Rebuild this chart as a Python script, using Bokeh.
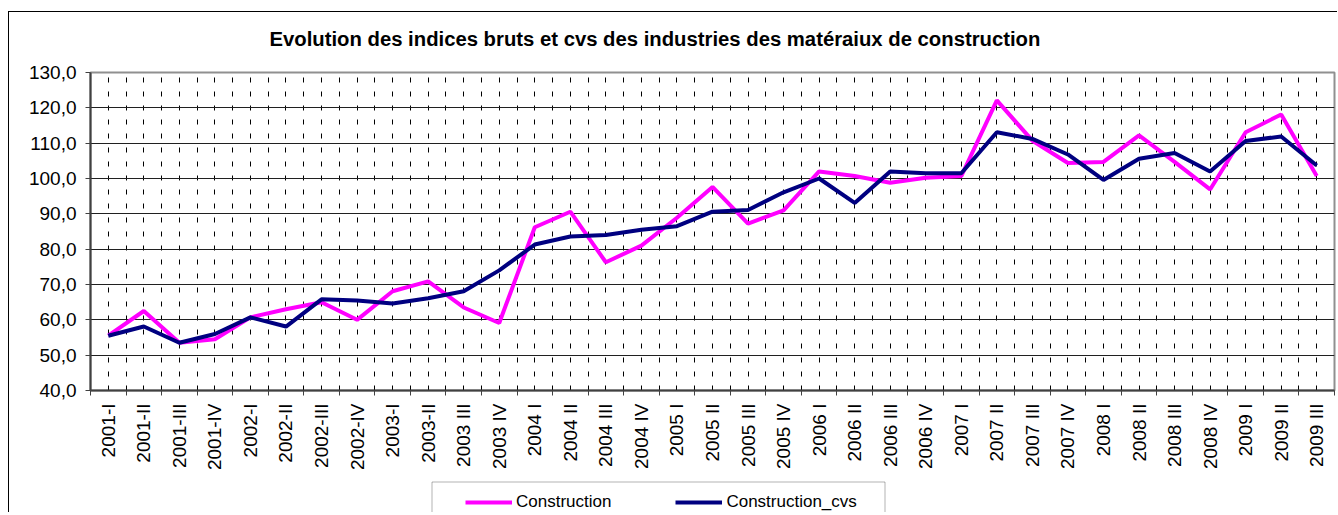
import math
from bokeh.plotting import figure
from bokeh.layouts import column
from bokeh.models import (Range1d, FixedTicker, Legend, LegendItem, ColumnDataSource,
                          Title, BoxAnnotation)
from bokeh.embed import file_html
from bokeh.resources import INLINE

# ---------------- data ----------------
quarters = ["2001-I", "2001-II", "2001-III", "2001-IV",
            "2002-I", "2002-II", "2002-III", "2002-IV",
            "2003-I", "2003-II", "2003 III", "2003 IV",
            "2004 I", "2004 II", "2004 III", "2004 IV",
            "2005 I", "2005 II", "2005 III", "2005 IV",
            "2006 I", "2006 II", "2006 III", "2006 IV",
            "2007 I", "2007 II", "2007 III", "2007 IV",
            "2008 I", "2008 II", "2008 III", "2008 IV",
            "2009 I", "2009 II", "2009 III"]
construction = [55.5, 62.5, 53.5, 54.5, 60.7, 63.0, 65.0, 60.0, 68.1, 70.9,
                63.5, 59.1, 86.2, 90.6, 76.3, 81.0, 88.9, 97.6, 87.2, 91.0,
                102.0, 100.7, 98.8, 100.2, 100.7, 122.1, 110.7, 104.4, 104.7, 112.2,
                104.7, 96.9, 113.1, 118.1, 100.7]
construction_cvs = [55.5, 58.1, 53.5, 56.0, 60.7, 58.1, 65.8, 65.5, 64.6, 66.1,
                    68.1, 74.0, 81.3, 83.6, 84.0, 85.5, 86.5, 90.6, 91.1, 96.1,
                    100.0, 93.1, 102.0, 101.5, 101.5, 113.1, 111.2, 106.8, 99.6, 105.6,
                    107.2, 102.0, 110.6, 111.9, 103.7]
y_ticks = [40, 50, 60, 70, 80, 90, 100, 110, 120, 130]
y_tick_labels = ["40,0", "50,0", "60,0", "70,0", "80,0", "90,0",
                 "100,0", "110,0", "120,0", "130,0"]
title_text = "Evolution des indices bruts et cvs des industries des matéraiux de construction"
series_names = ["Construction", "Construction_cvs"]
series_colors = ["#FF00FF", "#000080"]

# ---------------- main figure ----------------
W = 1328
HF = 468
BL, BR = 81, 3          # left / right borders of the plotting frame
n = len(quarters)
pos = list(range(n))
src = ColumnDataSource(dict(x=pos, q=quarters, c=construction, cvs=construction_cvs))

FONT = "Liberation Sans"
AX = "#404040"
LW = 4

fig = figure(width=W, height=HF, output_backend="svg", toolbar_location=None,
             title=None,
             x_range=Range1d(-0.5, n - 0.5), y_range=Range1d(40, 130),
             min_border_left=BL, min_border_right=BR, min_border_top=60,
             min_border_bottom=90, background_fill_color="white",
             border_fill_color="white")
fig.outline_line_color = "#909090"
fig.outline_line_width = 2

# spacer (closest to frame) then the real title
fig.add_layout(Title(text=" ", text_font_size="1px", standoff=15), "above")
fig.add_layout(Title(text=title_text, align="left", offset=179, standoff=10,
                     text_font=FONT, text_font_style="bold",
                     text_font_size="20.3px", text_color="black"), "above")

xt = FixedTicker(ticks=pos, minor_ticks=[i - 0.5 for i in range(n + 1)])
yt = FixedTicker(ticks=y_ticks, minor_ticks=[])

# y axis
yax = fig.yaxis[0]
yax.ticker = yt
yax.major_label_overrides = {v: s for v, s in zip(y_ticks, y_tick_labels)}
yax.axis_line_color = AX
yax.axis_line_width = 2
yax.major_tick_line_color = AX
yax.major_tick_out = 5
yax.major_tick_in = 0
yax.minor_tick_line_color = None
yax.major_label_standoff = 9
yax.major_label_text_font = FONT
yax.major_label_text_font_size = "19px"
yax.major_label_text_color = "black"

# x axis
xax = fig.xaxis[0]
xax.ticker = xt
xax.major_label_overrides = {i: q for i, q in zip(pos, quarters)}
xax.axis_line_color = AX
xax.axis_line_width = 2
xax.major_tick_line_color = None
xax.major_tick_out = 0
xax.major_tick_in = 0
xax.minor_tick_line_color = AX
xax.minor_tick_out = 5
xax.minor_tick_in = 0
xax.major_label_orientation = math.pi / 2
xax.major_label_standoff = 8
xax.major_label_text_font = FONT
xax.major_label_text_font_size = "19px"
xax.major_label_text_color = "black"

# grids
fig.ygrid.ticker = yt
fig.ygrid.grid_line_color = "#202020"
fig.ygrid.grid_line_width = 1
fig.xgrid.ticker = xt
fig.xgrid.grid_line_color = "black"
fig.xgrid.grid_line_dash = "5 9"
fig.xgrid.minor_grid_line_color = "black"
fig.xgrid.minor_grid_line_dash = "5 9"

# data lines
fig.line("x", "c", source=src, line_color=series_colors[0], line_width=LW)
fig.line("x", "cvs", source=src, line_color=series_colors[1], line_width=LW)

# ---------------- legend strip ----------------
HL = 32
leg = figure(width=W, height=HL, output_backend="svg", toolbar_location=None,
             title=None, x_axis_type=None, y_axis_type=None,
             x_range=Range1d(BL, W - BR), y_range=Range1d(0, HL),
             min_border_left=BL, min_border_right=BR,
             min_border_top=0, min_border_bottom=0,
             background_fill_color="white", border_fill_color="white")
leg.outline_line_color = None
leg.xgrid.visible = False
leg.ygrid.visible = False

# legend frame (canvas pixels; open at the bottom like the reference)
leg.add_layout(BoxAnnotation(left=422.5, right=875.5, top=30.5, bottom=-10,
                             fill_color=None, line_color="black", line_width=1))
# single-point proxies: no visible line, used only for the legend keys
proxies = [leg.line(x=[BL], y=[-100], line_color=c, line_width=LW) for c in series_colors]
legend = Legend(items=[LegendItem(label=s, renderers=[r]) for s, r in zip(series_names, proxies)],
                orientation="horizontal", location=(456 - BL, 0),
                border_line_color=None, background_fill_alpha=0,
                padding=0, margin=0, glyph_width=47, glyph_height=18,
                label_height=18, label_standoff=4, spacing=64,
                label_text_font=FONT, label_text_font_size="17px",
                label_text_color="black")
leg.add_layout(legend)

p = column(fig, leg, spacing=0,
           styles={"margin-left": "8px", "margin-top": "11px",
                   "border-left": "1px solid black", "border-top": "1px solid black"})

open("out.html", "w").write(file_html(p, INLINE))
